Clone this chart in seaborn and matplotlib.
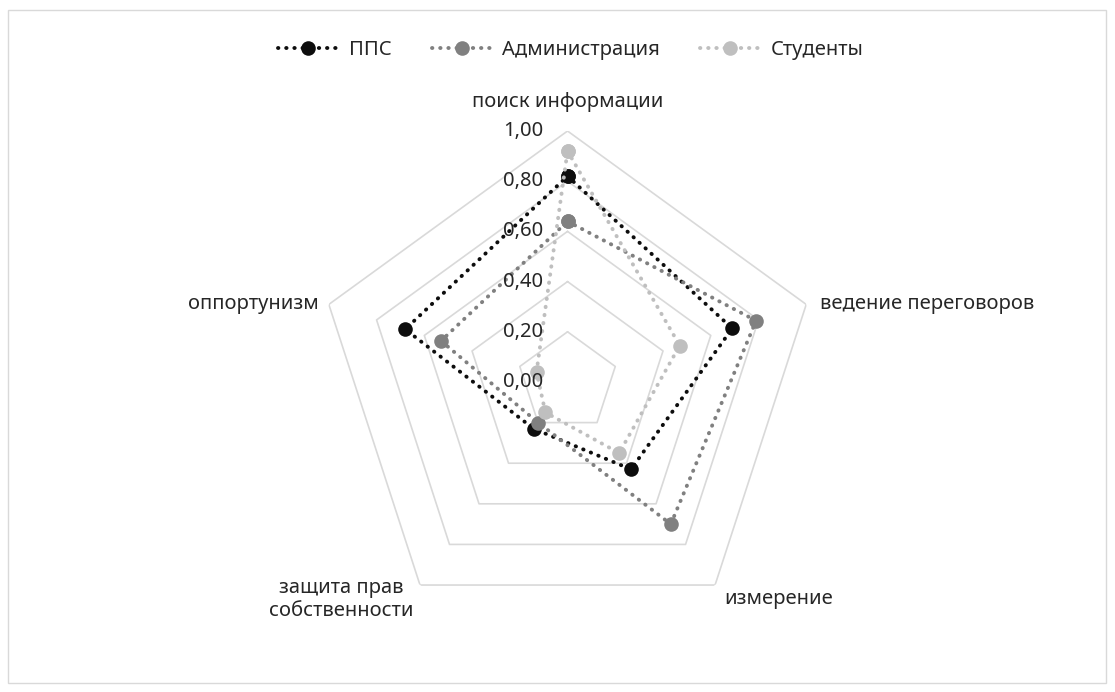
import numpy as np
import pandas as pd
import seaborn as sns
import matplotlib.pyplot as plt
import matplotlib.transforms as mtransforms
from matplotlib.patches import Rectangle

# data
categories = ['поиск информации', 'ведение переговоров', 'измерение',
              'защита прав\nсобственности', 'оппортунизм']
pps = [0.82, 0.69, 0.43, 0.23, 0.68]
admin = [0.64, 0.79, 0.70, 0.20, 0.53]
students = [0.92, 0.47, 0.35, 0.15, 0.13]
series_names = ['ППС', 'Администрация', 'Студенты']
series_colors = ['#0d0d0d', '#808080', '#bfbfbf']
r_ticks = [0.0, 0.2, 0.4, 0.6, 0.8, 1.0]
r_labels = ['0,00', '0,20', '0,40', '0,60', '0,80', '1,00']

sns.set_theme(style='white')
plt.rcParams['font.family'] = ['Noto Sans', 'DejaVu Sans']
FS = 14.5

n = len(categories)
angles = list(np.linspace(0, 2 * np.pi, n, endpoint=False)) + [2 * np.pi]

# long table, first point repeated to close each polygon
rows = []
for name, vals in zip(series_names, [pps, admin, students]):
    closed = list(vals) + [vals[0]]
    for th, v in zip(angles, closed):
        rows.append({'series': name, 'theta': th, 'value': v})
df = pd.DataFrame(rows)

fig = plt.figure(figsize=(11.15, 6.92), dpi=100)
ax = fig.add_axes([0.2839, 0.0853, 0.4502, 0.7254], projection='polar')
ax.set_theta_offset(np.pi / 2)
ax.set_theta_direction(-1)

for name, color in zip(series_names, series_colors):
    sns.lineplot(data=df[df['series'] == name], x='theta', y='value', sort=False,
                 errorbar=None, ax=ax, color=color, lw=2.8,
                 linestyle=(0, (0.1, 2)), dash_capstyle='round',
                 marker='o', markersize=10.5, markeredgewidth=0,
                 label=name, legend=False, zorder=3)
handles, labels = ax.get_legend_handles_labels()

# pentagon grid
for r in r_ticks[1:]:
    ax.plot(angles, [r] * len(angles), color='#d9d9d9', lw=1.2, zorder=1)

ax.grid(False)
ax.spines['polar'].set_visible(False)
ax.set_xticks([])
ax.set_yticks([])
ax.set_ylim(0, 1)
ax.set_xlabel('')
ax.set_ylabel('')
ax.patch.set_alpha(0)

# radial tick labels
tr = mtransforms.offset_copy(ax.transData, fig=fig, x=-24, y=0, units='dots')
for r, lab in zip(r_ticks, r_labels):
    ax.text(0, r, lab, transform=tr, ha='right', va='center', fontsize=14.5,
            color='#262626', zorder=5)

# category labels: (dx, dy in px, ha, va)
lab_pos = [(0, 29, 'center', 'center'), (14, 0, 'left', 'center'),
           (9, -14, 'left', 'center'), (-7, -14, 'right', 'center'),
           (-10, 0, 'right', 'center')]
for th, lab, (dx, dy, ha, va) in zip(angles[:-1], categories, lab_pos):
    t = mtransforms.offset_copy(ax.transData, fig=fig, x=dx, y=dy, units='dots')
    ax.text(th, 1.0, lab, transform=t, ha=ha, va=va, multialignment='center',
            fontsize=FS, color='#262626')

fig.legend(handles, labels, loc='center', bbox_to_anchor=(0.512, 0.928), ncol=3,
           frameon=False, fontsize=FS, handlelength=3.0, columnspacing=2.0,
           handletextpad=0.5, labelcolor='#262626')

fig.patches.append(Rectangle((8 / 1115, 9 / 692), 1098 / 1115, 673 / 692,
                             transform=fig.transFigure, fill=False,
                             edgecolor='#d9d9d9', lw=1))

fig.savefig('out.png', dpi=100)
